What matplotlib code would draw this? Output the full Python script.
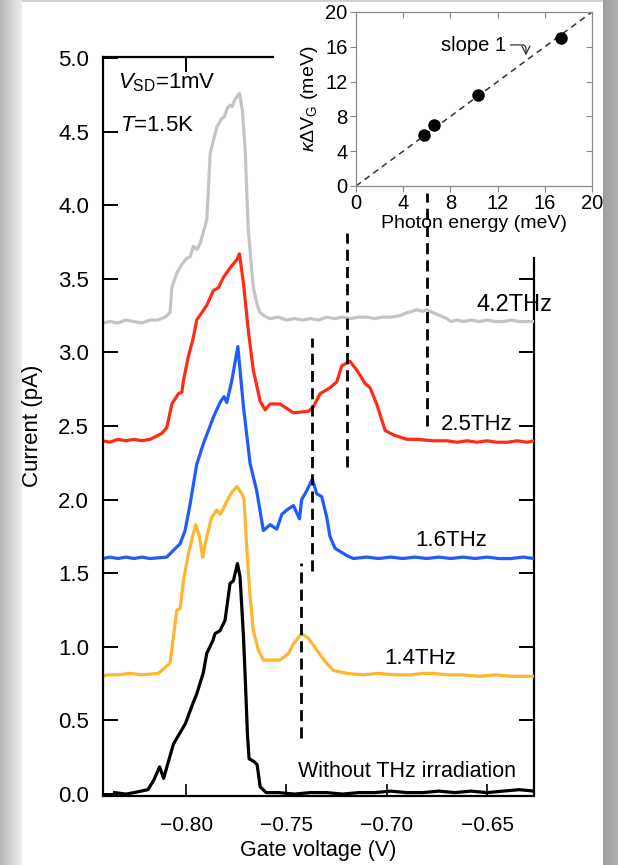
import numpy as np
import matplotlib
matplotlib.use("Agg")
import matplotlib.pyplot as plt

plt.rcParams['font.family'] = ['Liberation Sans', 'DejaVu Sans']
plt.rcParams['mathtext.fontset'] = 'custom'
plt.rcParams['mathtext.rm'] = 'Liberation Sans'
plt.rcParams['mathtext.it'] = 'Liberation Sans:italic'

# gate-voltage sweeps (V, pA), offset per frequency
v_42 = [-0.8414, -0.8380, -0.8340, -0.8300, -0.8260, -0.8220, -0.8180, -0.8140, -0.8105, -0.8080,
        -0.8071, -0.8046, -0.8020, -0.7997, -0.7980, -0.7964, -0.7945, -0.7930, -0.7897, -0.7889,
        -0.7880, -0.7864, -0.7847, -0.7822, -0.7810, -0.7794, -0.7781, -0.7770, -0.7756, -0.7734,
        -0.7720, -0.7706, -0.7690, -0.7665, -0.7645, -0.7631, -0.7600, -0.7581, -0.7540, -0.7500,
        -0.7460, -0.7420, -0.7380, -0.7340, -0.7300, -0.7260, -0.7220, -0.7180, -0.7140, -0.7100,
        -0.7060, -0.7020, -0.6980, -0.6934, -0.6900, -0.6870, -0.6851, -0.6820, -0.6800, -0.6769,
        -0.6734, -0.6700, -0.6680, -0.6650, -0.6620, -0.6580, -0.6540, -0.6500, -0.6460, -0.6420,
        -0.6380, -0.6340, -0.6300, -0.6266]
i_42 = [3.20, 3.21, 3.20, 3.22, 3.21, 3.20, 3.22, 3.22, 3.24, 3.27,
        3.44, 3.54, 3.60, 3.64, 3.65, 3.72, 3.70, 3.74, 3.90, 4.10,
        4.35, 4.44, 4.53, 4.59, 4.60, 4.66, 4.68, 4.67, 4.72, 4.76,
        4.65, 4.39, 3.83, 3.44, 3.32, 3.27, 3.24, 3.23, 3.24, 3.22,
        3.23, 3.22, 3.23, 3.22, 3.24, 3.23, 3.24, 3.23, 3.24, 3.24,
        3.23, 3.24, 3.24, 3.25, 3.27, 3.28, 3.29, 3.28, 3.29, 3.27,
        3.25, 3.23, 3.21, 3.22, 3.21, 3.22, 3.21, 3.22, 3.21, 3.21,
        3.22, 3.21, 3.21, 3.21]

v_25 = [-0.8414, -0.8380, -0.8340, -0.8300, -0.8260, -0.8220, -0.8179, -0.8121, -0.8096, -0.8071,
        -0.8038, -0.8021, -0.8013, -0.7989, -0.7964, -0.7947, -0.7897, -0.7864, -0.7839, -0.7814,
        -0.7772, -0.7747, -0.7734, -0.7714, -0.7690, -0.7665, -0.7631, -0.7606, -0.7581, -0.7532,
        -0.7498, -0.7465, -0.7391, -0.7366, -0.7332, -0.7283, -0.7249, -0.7224, -0.7183, -0.7149,
        -0.7108, -0.7083, -0.7050, -0.7008, -0.6967, -0.6900, -0.6850, -0.6768, -0.6700, -0.6650,
        -0.6600, -0.6550, -0.6500, -0.6450, -0.6400, -0.6350, -0.6300, -0.6266]
i_25 = [2.40, 2.39, 2.41, 2.40, 2.41, 2.40, 2.41, 2.45, 2.49, 2.65,
        2.72, 2.73, 2.81, 2.97, 3.10, 3.22, 3.32, 3.42, 3.44, 3.51,
        3.59, 3.63, 3.67, 3.47, 3.15, 2.88, 2.67, 2.61, 2.65, 2.65,
        2.62, 2.59, 2.60, 2.63, 2.72, 2.76, 2.80, 2.91, 2.94, 2.88,
        2.79, 2.76, 2.65, 2.47, 2.44, 2.41, 2.41, 2.40, 2.40, 2.39,
        2.40, 2.39, 2.40, 2.39, 2.39, 2.40, 2.39, 2.40]

v_16 = [-0.8414, -0.8380, -0.8340, -0.8300, -0.8260, -0.8220, -0.8180, -0.8096, -0.8071, -0.8030,
        -0.8005, -0.7980, -0.7947, -0.7914, -0.7864, -0.7831, -0.7811, -0.7797, -0.7772, -0.7742,
        -0.7714, -0.7681, -0.7648, -0.7615, -0.7581, -0.7548, -0.7523, -0.7498, -0.7465, -0.7435,
        -0.7424, -0.7399, -0.7371, -0.7349, -0.7324, -0.7299, -0.7283, -0.7258, -0.7199, -0.7166,
        -0.7100, -0.7040, -0.6980, -0.6920, -0.6860, -0.6800, -0.6740, -0.6680, -0.6620, -0.6560,
        -0.6500, -0.6440, -0.6380, -0.6320, -0.6266]
i_16 = [1.60, 1.61, 1.60, 1.61, 1.60, 1.61, 1.60, 1.61, 1.645, 1.70,
        1.79, 1.97, 2.24, 2.38, 2.56, 2.66, 2.70, 2.66, 2.81, 3.04,
        2.63, 2.245, 2.06, 1.79, 1.83, 1.80, 1.90, 1.93, 1.96, 1.87,
        2.00, 2.06, 2.14, 2.04, 2.02, 1.88, 1.75, 1.67, 1.62, 1.60,
        1.61, 1.60, 1.61, 1.60, 1.61, 1.60, 1.61, 1.60, 1.61, 1.60,
        1.61, 1.60, 1.60, 1.61, 1.60]

v_14 = [-0.8414, -0.8395, -0.8340, -0.8280, -0.8220, -0.8138, -0.8080, -0.8063, -0.8046, -0.8030,
        -0.8013, -0.7989, -0.7964, -0.7952, -0.7934, -0.7917, -0.7897, -0.7872, -0.7847, -0.7831,
        -0.7814, -0.7789, -0.7772, -0.7747, -0.7722, -0.7711, -0.7698, -0.7681, -0.7665, -0.7640,
        -0.7615, -0.7532, -0.7490, -0.7465, -0.7424, -0.7391, -0.7349, -0.7307, -0.7266, -0.7199,
        -0.7120, -0.7040, -0.6960, -0.6880, -0.6820, -0.6769, -0.6700, -0.6620, -0.6540, -0.6460,
        -0.6380, -0.6300, -0.6266]
i_14 = [0.80, 0.81, 0.81, 0.82, 0.81, 0.82, 0.89, 1.07, 1.25, 1.26,
        1.45, 1.63, 1.77, 1.83, 1.75, 1.61, 1.75, 1.88, 1.93, 1.90,
        1.94, 2.01, 2.05, 2.09, 2.04, 2.00, 1.68, 1.34, 1.11, 0.98,
        0.91, 0.91, 0.955, 1.02, 1.09, 1.06, 0.98, 0.90, 0.84, 0.82,
        0.81, 0.82, 0.81, 0.81, 0.82, 0.82, 0.81, 0.81, 0.80, 0.81,
        0.80, 0.80, 0.80]

v_0 = [-0.8357, -0.8300, -0.8259, -0.8190, -0.8161, -0.8132, -0.8112, -0.8063, -0.8003, -0.7965,
       -0.7947, -0.7915, -0.7897, -0.7866, -0.7856, -0.7831, -0.7806, -0.7781, -0.7764, -0.7744,
       -0.7731, -0.7714, -0.7705, -0.7694, -0.7686, -0.7661, -0.7646, -0.7631, -0.7601, -0.7540,
       -0.7460, -0.7380, -0.7300, -0.7220, -0.7140, -0.7060, -0.6980, -0.6900, -0.6820, -0.6740,
       -0.6660, -0.6580, -0.6500, -0.6420, -0.6340, -0.6266]
i_0 = [0.01, 0.00, 0.01, 0.03, 0.095, 0.185, 0.107, 0.34, 0.48, 0.62,
       0.68, 0.82, 0.955, 1.045, 1.09, 1.11, 1.18, 1.43, 1.45, 1.566,
       1.475, 1.07, 0.78, 0.40, 0.24, 0.22, 0.20, 0.05, 0.01, 0.01,
       0.00, 0.01, 0.01, 0.00, 0.01, 0.01, 0.02, 0.01, 0.01, 0.02,
       0.01, 0.02, 0.01, 0.02, 0.03, 0.02]

# resonance markers: gate voltage, y-start, y-end
mark_v = [-0.7427, -0.7372, -0.7199, -0.6799]
mark_lo = [0.38, 1.515, 2.22, 2.50]
mark_hi = [1.57, 3.10, 3.81, 4.08]

# inset: photon energy vs kappa * dV_G
photon_mev = [5.79, 6.62, 10.34, 17.37]
kdvg_mev = [5.9, 7.0, 10.5, 17.0]

fig = plt.figure(figsize=(6.18, 8.65), dpi=100)

# slide-style frame behind the figure
bg = fig.add_axes([0, 0, 1, 1], zorder=-10)
bg.set_axis_off()
bg.set_xlim(0, 618)
bg.set_ylim(865, 0)
shade = np.ones((865, 618))
shade[:, :22] = np.linspace(0.72, 0.92, 22)
shade[:, 603:] = np.linspace(0.62, 0.68, 15)
shade[:2, 22:603] = 0.82
bg.imshow(shade, cmap='gray', vmin=0, vmax=1, extent=[0, 618, 865, 0], aspect='auto')

ax = fig.add_axes([0.1667, 0.0803, 0.6974, 0.8543])
ax.patch.set_alpha(0)
lw = 2.3
ax.plot(v_42, i_42, color='#c4c4c4', lw=lw, solid_joinstyle='round')
ax.plot(v_25, i_25, color='#ff2b14', lw=lw, solid_joinstyle='round')
ax.plot(v_16, i_16, color='#1f5bff', lw=lw, solid_joinstyle='round')
ax.plot(v_14, i_14, color='#ffb52e', lw=lw, solid_joinstyle='round')
ax.plot(v_0, i_0, color='black', lw=lw, solid_joinstyle='round')
ax.vlines(mark_v, mark_lo, mark_hi, colors='black', lw=2, linestyles=(0, (4, 2.2)))

ax.set_xlim(-0.8414, -0.6266)
ax.set_ylim(-0.01, 5.01)
ax.set_xticks([-0.80, -0.75, -0.70, -0.65])
ax.set_xticklabels(['\u22120.80', '\u22120.75', '\u22120.70', '\u22120.65'])
ax.set_yticks(np.arange(0, 5.01, 0.5))
ax.set_yticklabels([f'{t:.1f}' for t in np.arange(0, 5.01, 0.5)])
ax.tick_params(axis='y', direction='in', length=11, width=1.4, labelsize=16, pad=10)
ax.tick_params(axis='x', direction='in', length=9, width=1.2, labelsize=15, pad=15)
for s in ['left', 'bottom']:
    ax.spines[s].set_linewidth(1.6)
ax.spines['right'].set_visible(False)
ax.spines['top'].set_visible(False)

sec_r = ax.secondary_yaxis('right')
sec_r.set_yticks([0.5, 1.0, 1.5, 2.0, 2.5, 3.0, 3.5])
sec_r.tick_params(direction='in', length=11, width=1.4, labelright=False)
sec_r.spines['right'].set_linewidth(1.6)
sec_r.spines['right'].set_bounds(0, 3.64)

sec_t = ax.secondary_xaxis('top')
sec_t.set_xticks([-0.80])
sec_t.tick_params(direction='in', length=11, width=1.4, labeltop=False)
sec_t.spines['top'].set_linewidth(1.6)
sec_t.spines['top'].set_bounds(-0.8414, -0.7567)

ax.set_xlabel('Gate voltage (V)', fontsize=15.5, labelpad=3)
ax.set_ylabel('Current (pA)', fontsize=16, labelpad=11)

ax.text(-0.8339, 4.83, r'$V_{\rm SD}$=1mV', fontsize=16, ha='left', va='center')
ax.text(-0.8329, 4.54, r'$T$=1.5K', fontsize=16, ha='left', va='center')
ax.text(-0.6366, 3.32, '4.2THz', fontsize=17, ha='center', va='center')
ax.text(-0.6550, 2.51, '2.5THz', fontsize=16, ha='center', va='center')
ax.text(-0.6677, 1.72, '1.6THz', fontsize=16, ha='center', va='center')
ax.text(-0.6834, 0.92, '1.4THz', fontsize=16, ha='center', va='center')
ax.text(-0.6899, 0.15, 'Without THz irradiation', fontsize=15.5, ha='center', va='center')

# inset
ax_in = fig.add_axes([0.5761, 0.7850, 0.3819, 0.2012])
ax_in.plot([0, 20], [0, 20], color='#333333', lw=1.1, ls=(0, (4, 3)))
ax_in.plot(photon_mev, kdvg_mev, 'o', color='black', ms=8)
ax_in.set_xlim(0, 20)
ax_in.set_ylim(0, 20)
ticks = [0, 4, 8, 12, 16, 20]
ax_in.set_xticks(ticks)
ax_in.set_yticks(ticks)
ax_in.tick_params(direction='out', length=4, width=0.8, color='#888888', labelsize=14.5, pad=2)
for s in ax_in.spines.values():
    s.set_color('#8a8a8a')
    s.set_linewidth(0.9)
in_r = ax_in.secondary_yaxis('right')
in_r.set_yticks(ticks[1:-1])
in_r.tick_params(direction='in', length=4, width=0.8, color='#888888', labelright=False)
in_r.spines['right'].set_visible(False)
in_t = ax_in.secondary_xaxis('top')
in_t.set_xticks(ticks[1:-1])
in_t.tick_params(direction='in', length=4, width=0.8, color='#888888', labeltop=False)
in_t.spines['top'].set_visible(False)
ax_in.set_xlabel('Photon energy (meV)', fontsize=14, labelpad=1)
ax_in.set_ylabel(r'$\kappa\Delta$V$_{\rm G}$ (meV)', fontsize=14, labelpad=4)
ax_in.annotate('slope 1', xy=(14.4, 15.0), xytext=(7.2, 16.1), fontsize=14.5,
               ha='left', va='center',
               arrowprops=dict(arrowstyle='->', lw=0.9, color='#333333', shrinkA=1, shrinkB=0,
                               relpos=(1, 0.55),
                               connectionstyle='angle,angleA=0,angleB=90,rad=4'))

fig.savefig('out.png', dpi=100)
